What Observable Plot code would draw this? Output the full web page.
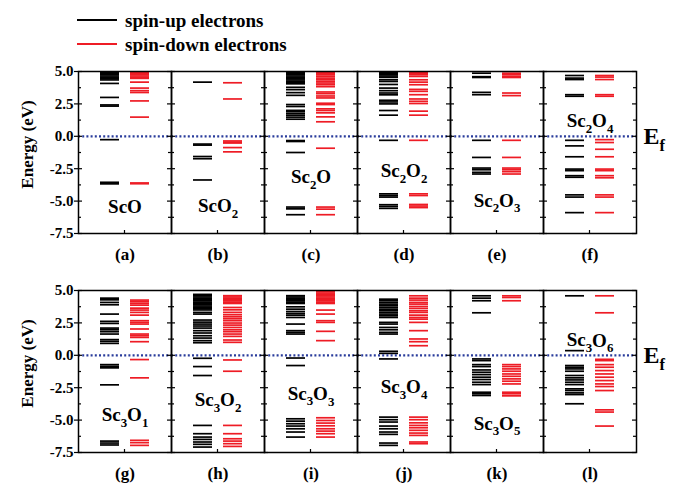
<!DOCTYPE html>
<html><head><meta charset="utf-8">
<script src="https://cdn.jsdelivr.net/npm/d3@7"></script>
<script src="https://cdn.jsdelivr.net/npm/@observablehq/plot@0.6"></script>
<style>
body{margin:0;background:#fff;}
#wrap{position:relative;width:681px;height:490px;font-family:'Liberation Serif','DejaVu Serif','Times New Roman',Times,serif;font-weight:bold;}
#legend{position:absolute;left:0;top:0;width:681px;height:60px;}
.lg{position:absolute;left:77px;width:40px;height:2px;}
.lt{position:absolute;left:125px;font-size:19px;line-height:19px;white-space:nowrap;}
#chart{position:absolute;left:0;top:60px;}
#chart svg, #chart svg text{font-family:'Liberation Serif','DejaVu Serif','Times New Roman',Times,serif !important;font-weight:bold;}
</style></head>
<body>
<div id="wrap">
  <div id="legend">
    <div class="lg" style="top:19px;background:#000"></div>
    <div class="lt" style="top:11px">spin-up electrons</div>
    <div class="lg" style="top:43px;background:#ee1c25"></div>
    <div class="lt" style="top:35px">spin-down electrons</div>
  </div>
  <div id="chart"></div>
</div>
<script>
// ---- data (energies in eV) ----
const panelLetters = ["(a)","(b)","(c)","(d)","(e)","(f)","(g)","(h)","(i)","(j)","(k)","(l)"];
const formulas = ["ScO","ScO_2","Sc_2O","Sc_2O_2","Sc_2O_3","Sc_2O_4","Sc_3O_1","Sc_3O_2","Sc_3O_3","Sc_3O_4","Sc_3O_5","Sc_3O_6"];
const formulaE = [-5.46,-5.35,-3.16,-2.65,-4.95,1.17,-4.6,-3.46,-2.95,-2.44,-5.26,1.15];
const yTicksMajor = [-7.5,-5,-2.5,0,2.5,5];
const yTicksMinor = [-6.25,-3.75,-1.25,1.25,3.75];
const spins = ["up","down"];

const up_a = [4.95,4.85,4.75,4.65,4.55,4.45,4.35,4.08,3.0,2.42,2.33,-0.26,-3.55,-3.67];
const down_a = [4.95,4.85,4.75,4.65,4.55,4.47,4.18,3.72,3.52,3.38,2.73,1.48,-3.6,-3.66];
const up_b = [4.18,-0.6,-0.68,-1.56,-1.73,-3.37];
const down_b = [4.13,2.88,-0.36,-0.45,-0.52,-0.87,-1.2];
const up_c = [4.95,4.85,4.75,4.65,4.55,4.45,4.35,4.25,4.15,4.05,3.78,3.6,3.37,3.16,2.45,2.3,2.0,1.9,1.76,1.63,1.48,1.32,-0.33,-0.4,-1.25,-5.46,-5.6,-6.05];
const down_c = [4.95,4.87,4.74,4.62,4.49,4.36,4.23,4.11,3.98,3.83,3.42,3.29,3.11,2.96,2.55,2.45,2.12,1.99,1.81,1.5,1.12,-0.92,-5.46,-5.62,-6.05];
const up_d = [4.95,4.85,4.75,4.65,4.55,4.36,4.23,4.0,3.72,3.52,3.34,3.2,2.78,2.65,2.5,1.99,1.63,-0.31,-4.44,-4.57,-4.69,-5.28,-5.41,-5.56];
const down_d = [4.95,4.85,4.75,4.62,4.36,4.18,3.98,3.62,3.47,3.21,2.88,2.7,2.53,1.94,1.63,-0.31,-4.44,-4.57,-5.26,-5.38,-5.5];
const up_e = [4.87,4.6,4.54,3.39,3.21,-0.31,-1.63,-2.45,-2.58,-2.78,-2.91];
const down_e = [4.87,4.74,4.6,4.54,3.34,3.14,-0.31,-1.63,-2.45,-2.58,-2.73,-2.91];
const up_f = [4.69,4.49,4.38,3.21,3.09,-0.31,-0.74,-1.58,-2.53,-2.65,-3.04,-3.16,-4.52,-4.69,-5.89];
const down_f = [4.69,4.57,4.38,3.21,3.09,-0.26,-0.48,-1.0,-1.58,-2.53,-2.65,-3.04,-3.2,-4.52,-4.69,-5.89];
const up_g = [4.41,4.28,4.08,3.9,3.18,2.62,2.46,2.1,1.97,1.82,1.64,1.21,1.08,0.92,-0.72,-0.85,-0.97,-2.28,-6.62,-6.77,-6.92];
const down_g = [4.26,4.13,4.0,3.87,3.64,3.49,3.31,3.1,2.67,2.54,2.41,2.03,1.64,1.51,1.38,1.05,-0.33,-1.74,-6.56,-6.74,-6.95];
const up_h = [4.7,4.6,4.5,4.4,4.3,4.2,4.1,4.0,3.9,3.8,3.7,3.6,3.5,3.31,3.18,2.72,2.56,2.41,2.26,2.1,1.9,1.72,1.51,1.33,1.13,0.97,-0.23,-0.87,-1.56,-5.41,-6.05,-6.31,-6.49,-6.69,-6.87,-7.08];
const down_h = [4.6,4.5,4.4,4.3,4.2,4.1,4.0,3.69,3.51,3.31,3.13,2.97,2.82,2.67,2.49,2.33,2.15,1.97,1.82,1.64,1.46,1.18,1.0,-0.36,-1.23,-5.41,-6.05,-6.44,-6.62,-6.82,-7.03];
const up_i = [4.6,4.5,4.4,4.3,4.2,4.1,4.0,3.74,3.56,3.38,3.23,3.1,2.92,2.41,1.9,1.77,1.64,-0.21,-0.79,-4.9,-5.08,-5.28,-5.46,-5.67,-5.92,-6.31];
const down_i = [4.9,4.8,4.7,4.6,4.5,4.4,4.3,4.2,4.1,4.0,3.49,3.18,2.67,2.54,1.85,1.13,-4.82,-5.03,-5.23,-5.44,-5.67,-5.85,-6.05,-6.31];
const up_j = [4.33,4.21,4.08,3.95,3.82,3.69,3.56,3.44,3.31,3.18,3.05,2.92,2.54,2.41,2.15,1.97,1.77,1.64,0.31,0.15,-0.28,-4.77,-4.97,-5.15,-5.46,-5.67,-5.92,-6.1,-6.77,-6.95];
const down_j = [4.59,4.41,4.26,4.08,3.95,3.77,3.62,3.44,3.31,3.1,2.92,2.79,2.54,1.9,1.26,1.05,0.74,-4.77,-4.97,-5.21,-5.41,-5.59,-5.79,-6.0,-6.18,-6.69,-6.82];
const up_k = [4.59,4.41,4.21,3.28,-0.28,-0.41,-0.72,-0.87,-1.13,-1.31,-1.49,-1.69,-1.87,-2.08,-2.26,-2.85,-2.97,-3.1];
const down_k = [4.59,4.46,4.21,-0.72,-0.87,-1.05,-1.23,-1.44,-1.62,-1.82,-2.0,-2.21,-2.85,-2.97,-3.13];
const up_l = [4.59,0.36,-0.79,-0.92,-1.05,-1.23,-1.56,-1.74,-1.9,-2.08,-2.26,-2.59,-2.72,-2.9,-3.03,-3.74];
const down_l = [4.59,3.28,-0.31,-0.41,-0.72,-0.92,-1.18,-1.44,-1.69,-1.95,-2.21,-2.41,-2.72,-4.21,-4.38,-5.46];

const upSets = [up_a,up_b,up_c,up_d,up_e,up_f,up_g,up_h,up_i,up_j,up_k,up_l];
const downSets = [down_a,down_b,down_c,down_d,down_e,down_f,down_g,down_h,down_i,down_j,down_k,down_l];

// ---- tables ----
const levels = [];
upSets.forEach((arr, i) => arr.forEach(E => levels.push({col: i % 6, row: Math.floor(i / 6), spin: "up", E})));
downSets.forEach((arr, i) => arr.forEach(E => levels.push({col: i % 6, row: Math.floor(i / 6), spin: "down", E})));
const panels = panelLetters.map((letter, i) => ({col: i % 6, row: Math.floor(i / 6), letter, formula: formulas[i], labelE: formulaE[i]}));
const leftPanels = panels.filter(p => p.col === 0);
const rightPanels = panels.filter(p => p.col === 5);

const W = 681, H = 430, ML = 78, MR = 45, MT = 10, MB = 37, PADY = 0.259;
const facetW = (W - ML - MR) / 6;
const facetH = (H - MT - MB) / (2 - PADY) * (1 - PADY);
const SERIF = "'Liberation Serif','DejaVu Serif','Times New Roman',Times,serif";

const chart = Plot.plot({
  width: W, height: H,
  marginTop: MT, marginBottom: MB, marginLeft: ML, marginRight: MR,
  style: {fontFamily: SERIF, fontSize: "15px", background: "white", overflow: "visible", color: "black"},
  fx: {domain: [0,1,2,3,4,5], padding: 0, axis: null},
  fy: {domain: [0,1], paddingInner: PADY, paddingOuter: 0, axis: null},
  x: {type: "band", domain: spins, paddingInner: 0.36, paddingOuter: 0.71, axis: null},
  y: {domain: [-7.5, 5], axis: null},
  color: {domain: spins, range: ["#000000", "#ee1c25"]},
  marks: [
    Plot.tickY(levels, {fx: "col", fy: "row", x: "spin", y: "E", stroke: "spin", strokeWidth: 1.7}),
    Plot.ruleY([0], {stroke: "#2a3c9c", strokeWidth: 2.2, strokeDasharray: "2,2.2"}),
    Plot.tickY(yTicksMajor, {y: d => d, insetRight: facetW - 4, stroke: "black", strokeWidth: 1.2}),
    Plot.tickY(yTicksMajor, {y: d => d, insetLeft: facetW - 4, stroke: "black", strokeWidth: 1.2}),
    Plot.tickY(yTicksMinor, {y: d => d, insetRight: facetW - 3, stroke: "black", strokeWidth: 1.2}),
    Plot.tickY(yTicksMinor, {y: d => d, insetLeft: facetW - 3, stroke: "black", strokeWidth: 1.2}),
    Plot.rect({length: 1}, {insetLeft: facetW / 2 - 0.6, insetRight: facetW / 2 - 0.6, insetTop: facetH - 4, fill: "black"}),
    Plot.frame({stroke: "black", strokeWidth: 1.5}),
    Plot.axisY(yTicksMajor, {anchor: "left", tickSize: 4, tickPadding: 1, tickFormat: d => d.toFixed(1), fontSize: 15, fontWeight: "bold", fontFamily: SERIF, label: null, strokeWidth: 1.2}),
    Plot.text(leftPanels, {fx: "col", fy: "row", text: () => "Energy (eV)", frameAnchor: "left", rotate: -90, dx: -51, dy: -8, fontSize: 17, fontWeight: "bold", fontFamily: SERIF, textAnchor: "middle", lineAnchor: "middle"}),
    Plot.text(panels, {fx: "col", fy: "row", text: "letter", frameAnchor: "bottom", dy: 21, fontSize: 17, fontWeight: "bold", fontFamily: SERIF, lineAnchor: "middle"}),
    Plot.text(panels, {fx: "col", fy: "row", y: "labelE", text: "formula", fontSize: 19, fontWeight: "bold", fontFamily: SERIF, lineAnchor: "middle"}),
    Plot.text(rightPanels, {fx: "col", fy: "row", y: () => 0, text: () => "E_f", frameAnchor: "right", textAnchor: "start", dx: 7, fontSize: 24, fontWeight: "bold", fontFamily: SERIF, lineAnchor: "middle"})
  ]
});

// subscripts: "_x" -> subscript x
const NS = "http://www.w3.org/2000/svg";
chart.querySelectorAll("text").forEach(t => {
  if (!t.textContent.includes("_")) return;
  const parts = t.textContent.split(/_(\w)/);
  t.textContent = "";
  parts.forEach((p, i) => {
    if (!p) return;
    const ts = document.createElementNS(NS, "tspan");
    ts.textContent = p;
    if (i % 2 === 1) { ts.setAttribute("font-size", "68%"); ts.setAttribute("dy", "0.45em"); }
    else if (i > 0) { ts.setAttribute("dy", "-0.3em"); }
    t.appendChild(ts);
  });
});

document.getElementById("chart").appendChild(chart);
</script>
</body></html>
